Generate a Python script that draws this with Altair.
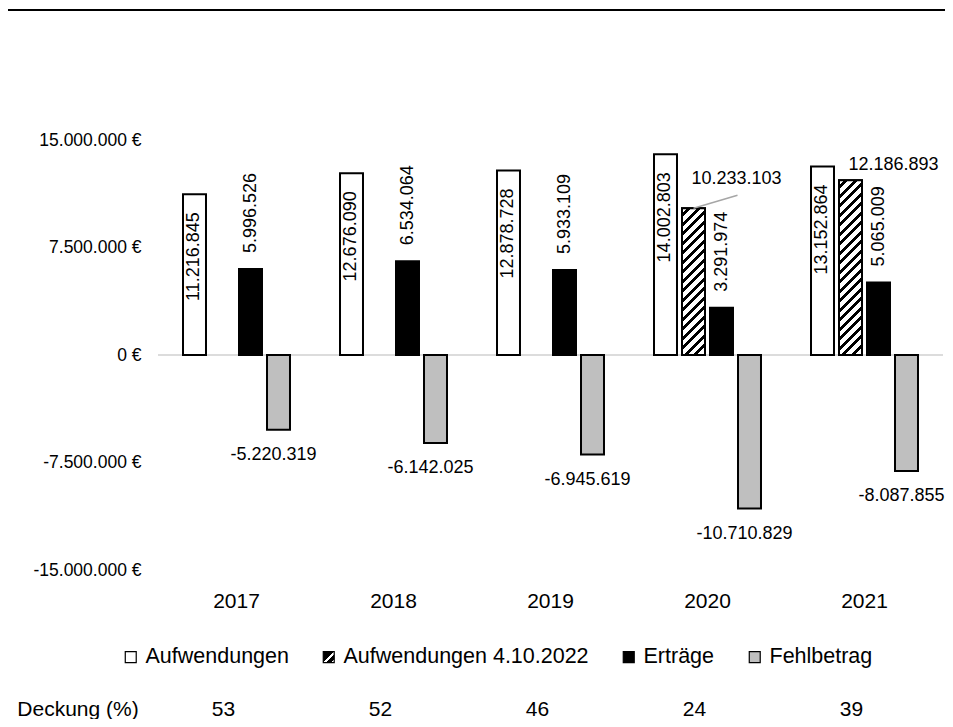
import altair as alt
import pandas as pd

# ---------------- data ----------------
years = ["2017", "2018", "2019", "2020", "2021"]
aufwendungen = [11216845, 12676090, 12878728, 14002803, 13152864]
aufwendungen_2022 = [None, None, None, 10233103, 12186893]
ertraege = [5996526, 6534064, 5933109, 3291974, 5065009]
fehlbetrag = [-5220319, -6142025, -6945619, -10710829, -8087855]
deckung = [53, 52, 46, 24, 39]
series = ["Aufwendungen", "Aufwendungen 4.10.2022", "Erträge", "Fehlbetrag"]
y_ticks = [-15000000, -7500000, 0, 7500000, 15000000]
y_domain = [-15000000, 15000000]

FONT = "Liberation Sans, Arial, sans-serif"

W, H = 785, 430
PAD = {"left": 150, "top": 132, "right": 2, "bottom": 149}
BAR_W = 23


def de(v):
    return f"{v:,}".replace(",", ".")


rows = []
for s, vals in zip(series, [aufwendungen, aufwendungen_2022, ertraege, fehlbetrag]):
    for yr, v in zip(years, vals):
        if v is None:
            continue
        rows.append({"year": yr, "series": s, "value": v, "label": de(v)})
df = pd.DataFrame(rows)
ddf = pd.DataFrame({"year": years, "deckung": [str(d) for d in deckung]})
zdf = pd.DataFrame({"value": [0]})


def hatch(h, w=BAR_W, period=9.5, black=0.45):
    """diagonal stripe gradient (45deg) for a w x h bar"""
    total = w + h
    c = total / (w * w + h * h)
    n = total / period
    stops = []
    k = 0
    while k < n:
        a = k / n
        b = min((k + 1 - black) / n, 1)
        e = min((k + 1) / n, 1)
        stops += [
            {"color": "white", "offset": a},
            {"color": "white", "offset": b},
            {"color": "black", "offset": b},
            {"color": "black", "offset": e},
        ]
        k += 1
    return {"gradient": "linear", "x1": 0, "y1": 0, "x2": w * c, "y2": h * c, "stops": stops}


# legend swatch for the hatched series, as a Vega expression (object literal)
swatch_expr = (
    "{gradient: 'linear', x1: 0, y1: 0, x2: 1, y2: 1, stops: ["
    "{offset: 0, color: 'black'}, {offset: 0.48, color: 'black'},"
    "{offset: 0.48, color: 'white'}, {offset: 0.62, color: 'white'},"
    "{offset: 0.62, color: 'black'}, {offset: 0.86, color: 'black'},"
    "{offset: 0.86, color: 'white'}, {offset: 1, color: 'white'}]}"
)
fills = ["#ffffff", {"expr": swatch_expr}, "#000000", "#bfbfbf"]

px_per_unit = H / (y_domain[1] - y_domain[0])

x_enc = alt.X(
    "year:N",
    sort=years,
    scale=alt.Scale(paddingInner=0, paddingOuter=0),
    axis=alt.Axis(title=None, labelAngle=0, labelFontSize=21, labelFont=FONT,
                  labelBaseline="middle", labelPadding=31, ticks=False, domain=False,
                  labelColor="black"),
)
xo_enc = alt.XOffset("series:N", sort=series,
                     scale=alt.Scale(domain=series, paddingInner=0.179, paddingOuter=0.893))
y_enc = alt.Y(
    "value:Q",
    scale=alt.Scale(domain=y_domain, nice=False, zero=False),
    axis=alt.Axis(title=None, values=y_ticks, grid=False, ticks=False, tickSize=0, domain=False,
                  labelFontSize=17.5, labelFont=FONT, labelPadding=17, labelColor="black",
                  labelExpr="(datum.value < 0 ? '-' : '') + replace(format(abs(datum.value), ',.0f'), regexp(',', 'g'), '.') + ' €'"),
)

base = alt.Chart(df).encode(x=x_enc, xOffset=xo_enc, y=y_enc)

legend = alt.Legend(
    title=None, orient="none", legendX=-38, legendY=506, direction="horizontal", columns=4,
    symbolType="square", symbolSize=120, symbolStrokeColor="black", symbolStrokeWidth=1.2,
    symbolOpacity=1, labelFontSize=21.5, labelFont=FONT, labelColor="black", labelOffset=4,
    labelLimit=400, columnPadding=29, padding=0,
)

zero = alt.Chart(zdf).mark_rule(color="#d0d0d0", strokeWidth=1.5).encode(y=y_enc)

bars = base.mark_bar(stroke="black", strokeWidth=2).encode(
    fill=alt.Fill("series:N", sort=series, scale=alt.Scale(domain=series, range=fills), legend=legend)
)

hatch_layers = []
for yr, v in zip(years, aufwendungen_2022):
    if v is None:
        continue
    hatch_layers.append(
        base.transform_filter(
            f"datum.series === 'Aufwendungen 4.10.2022' && datum.year === '{yr}'"
        ).mark_bar(fill=hatch(v * px_per_unit), stroke="black", strokeWidth=2)
    )

txt = dict(font=FONT, fontSize=18, color="black")
t_auf = base.transform_filter("datum.series === 'Aufwendungen'").mark_text(
    angle=270, align="right", baseline="middle", dx=-18, **txt).encode(text="label:N")
t_ert = base.transform_filter("datum.series === 'Erträge'").mark_text(
    angle=270, align="left", baseline="middle", dx=16, **txt).encode(text="label:N")
t_feh = base.transform_filter("datum.series === 'Fehlbetrag'").mark_text(
    align="center", baseline="middle", dx=-5, dy=25, **txt).encode(text="label:N")
t_h20 = base.transform_filter("datum.series === 'Aufwendungen 4.10.2022' && datum.year === '2020'").mark_text(
    align="center", baseline="middle", dx=43, dy=-29, **txt).encode(text="label:N")
t_h21 = base.transform_filter("datum.series === 'Aufwendungen 4.10.2022' && datum.year === '2021'").mark_text(
    align="center", baseline="middle", dx=43, dy=-15, **txt).encode(text="label:N")
leader = base.transform_filter("datum.series === 'Aufwendungen 4.10.2022' && datum.year === '2020'").mark_rule(
    color="#a6a6a6", strokeWidth=1.5, x2Offset=30, y2Offset=-13).encode(
    x2=alt.X2("year"), y2=alt.Y2("value"))

deck = alt.Chart(ddf).mark_text(font=FONT, fontSize=21, color="black", baseline="middle", dx=-13).encode(
    x=alt.X("year:N", sort=years), y=alt.value(569.5), text="deckung:N")
deck_title = alt.Chart(pd.DataFrame({"t": ["Deckung (%)"]})).mark_text(
    font=FONT, fontSize=21, color="black", baseline="middle", align="center").encode(
    x=alt.value(-80), y=alt.value(569.5), text="t:N")

top_line = alt.Chart(pd.DataFrame({"a": [0]})).mark_rule(color="black", strokeWidth=2).encode(
    x=alt.value(-150), x2=alt.value(W + PAD["right"]), y=alt.value(-130))

chart = alt.layer(
    zero, bars, *hatch_layers, leader, t_auf, t_ert, t_feh, t_h20, t_h21, deck, deck_title, top_line
).properties(
    width=W, height=H, autosize=alt.AutoSizeParams(type="none"), padding=PAD
).configure_view(stroke=None)

chart.save("out.html", embed_options={"renderer": "svg", "actions": False})
